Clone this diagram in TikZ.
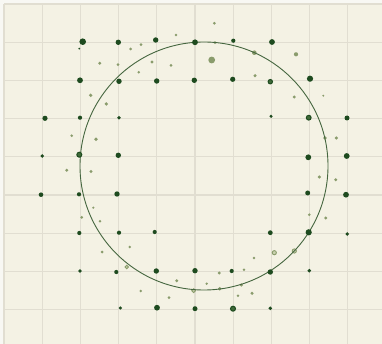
\documentclass[tikz,border=0pt]{standalone}
\usepackage{tikz}

\definecolor{paper}{HTML}{F8F8F3}
\definecolor{panel}{HTML}{F4F2E4}
\definecolor{gridc}{HTML}{E1DED1}
\definecolor{darkgreen}{HTML}{1E4B1F}
\definecolor{ringgreen}{HTML}{3F6A38}
\definecolor{lightgreen}{HTML}{8A9C6C}
\definecolor{lightfill}{HTML}{C9D1AE}
\definecolor{circlec}{HTML}{45663F}

\begin{document}
\begin{tikzpicture}[
  x=1pt, y=-1pt,
  gridline/.style={draw=gridc, line width=1.3pt},
  darkdot/.style={fill=darkgreen},
  darkring/.style={draw=darkgreen, fill=ringgreen, line width=1pt},
  lightdot/.style={fill=lightgreen},
  lightring/.style={draw=lightgreen, fill=lightfill, line width=0.9pt},
  bigcircle/.style={draw=circlec, line width=0.9pt},
]
\useasboundingbox (0,0) rectangle (382,344);

%% =========================================================
%% Background panel and grid
%% =========================================================
\fill[paper] (0,0) rectangle (382,344);
\fill[panel] (4,4) rectangle (382,344);
\foreach \k in {0,...,9}
  \draw[gridline] ({4+38.2*\k},4) -- ({4+38.2*\k},344);
\foreach \k in {0,...,8}
  \draw[gridline] (4,{4+38.2*\k}) -- (382,{4+38.2*\k});

%% =========================================================
%% Scattered light points
%% =========================================================
\foreach \x/\y/\r in {
  176/35/1.4, 130.7/49/1.5, 141/44.7/1.5, 152/62/1.6, 171/65.3/1.5,
  99.7/63.3/1.6, 118/64.7/1.5, 138.7/72.3/1.4, 90.7/95.3/1.8,
  106.3/104/1.8, 71.7/135.7/1.4, 96/139.3/1.8, 66.7/170.3/1.6,
  91/171.5/1.6, 214.3/23.3/1.5, 215/42.7/1.5, 211.7/60/3.4,
  254.3/52.7/2.3, 296/54.3/2.1, 255/75.7/1.7, 294.3/97/1.6,
  323.3/95.7/1.1, 325/138/1.8, 336.3/138/1.7, 93.3/207.7/1.2,
  81.7/217.3/1.5, 100/221.3/1.4, 102/252/1.5, 129.7/247/1.3,
  176.7/280.7/1.6, 140.7/291/1.4, 169/297.7/1.5, 319.3/177/1.7,
  335.7/179.7/1.6, 309.3/214.7/1.4, 325.7/218/1.6, 254/258/1.4,
  219.3/273/1.6, 244/269.7/1.4, 206.7/283.7/1.3, 219.7/288.7/1.9,
  241.3/285/1.7, 238/295.7/1.4, 252/293.3/1.7}
  \fill[lightdot] (\x,\y) circle[radius=\r];
\foreach \x/\y/\r in {126.7/267/1.7, 274.3/252.7/2.1, 294.3/251/2.1,
  193.7/290.7/1.9}
  \draw[lightring] (\x,\y) circle[radius=\r];

%% =========================================================
%% Circle
%% =========================================================
\draw[bigcircle] (204,166) circle[radius=124];

%% =========================================================
%% Dark points near grid crossings
%% =========================================================
\foreach \x/\y/\r in {
  82.7/41.7/3.3, 118.3/42.3/2.7, 155.7/40/2.7, 79.3/48.7/1,
  80/80.3/2.9, 119/81.3/2.7, 156.7/81/2.7, 45/118.3/2.6,
  80/117.7/2.1, 119/117.7/1.9, 42.3/156/1.9, 118.3/155.3/2.7,
  195/42.3/2.9, 233.3/40.7/2.1, 272/42/2.9, 194.3/80.3/2.7,
  232.7/79.3/2.6, 310/78.7/3.1, 271/116.3/1.7, 347/118/2.5,
  308.3/157.3/2.9, 346.7/156/2.9, 41/194.7/2.3, 79/194.3/2.1,
  117/194/2.7, 79.3/233/2.1, 119/232.7/2.1, 154.7/232/2.1,
  80/271/1.9, 116.3/272/2.1, 156.3/271/2.7, 120.3/308/1.7,
  157/307.7/2.9, 307.7/193/2.5, 346/194.7/2.9, 270.3/232.7/2.4,
  308.7/232.3/3.1, 347.3/234/1.9, 195/270.7/2.7, 231.7/271/2.1,
  270.3/272/2.7, 309.3/270.7/1.9, 195/308.7/2.5, 270.3/308.3/1.9}
  \fill[darkdot] (\x,\y) circle[radius=\r];
\foreach \x/\y/\r in {79.3/154.7/2.5, 270.3/81.7/2.2, 308.7/117.7/2.4,
  233/308.7/2.5}
  \draw[darkring] (\x,\y) circle[radius=\r];

\end{tikzpicture}
\end{document}
